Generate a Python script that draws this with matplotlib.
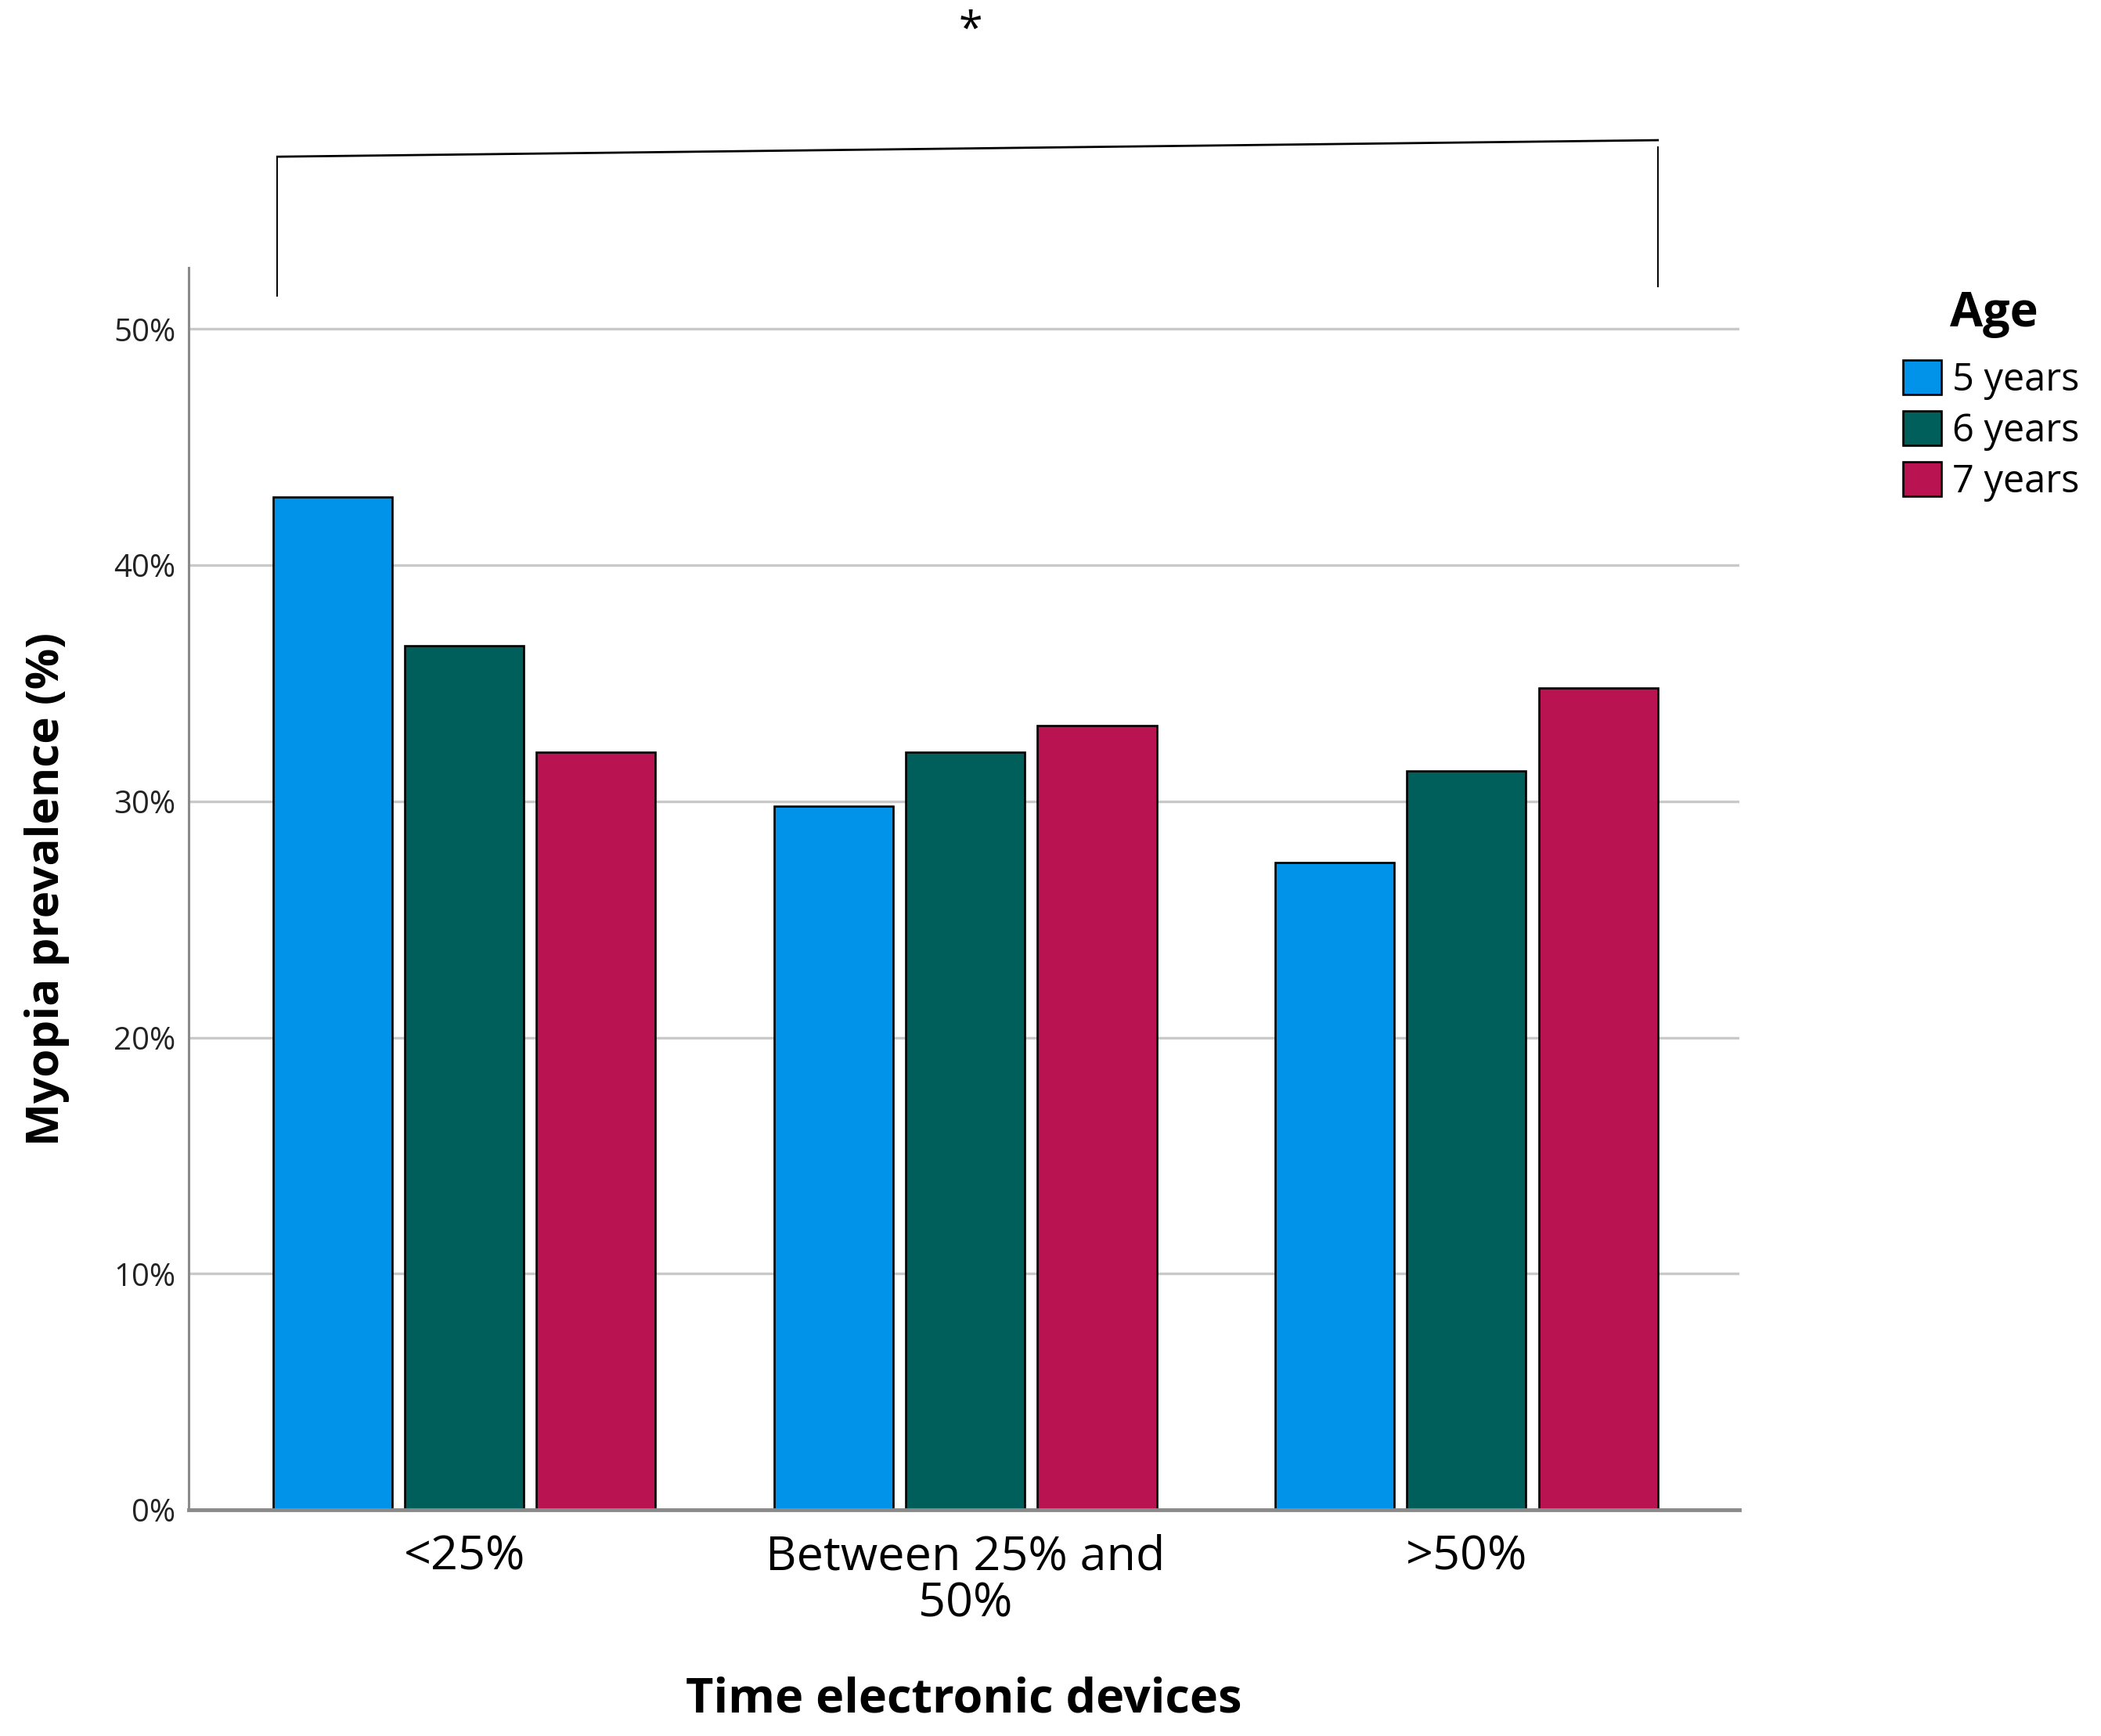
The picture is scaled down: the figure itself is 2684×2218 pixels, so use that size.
import numpy as np
import matplotlib.pyplot as plt
from matplotlib.patches import Patch

# data (myopia prevalence, %)
categories = ['<25%', 'Between 25% and\n50%', '>50%']
ages = ['5 years', '6 years', '7 years']
prev_5y = [42.9, 29.8, 27.4]
prev_6y = [36.6, 32.1, 31.3]
prev_7y = [32.1, 33.2, 34.8]
colors = ['#0093E9', '#005F5B', '#BA1352']

plt.rcParams['font.family'] = ['Open Sans', 'DejaVu Sans']

fig = plt.figure(figsize=(26.84, 22.18), dpi=100)
ax = fig.add_axes([0.0898, 0.1303, 0.7381, 0.7155])

x = np.arange(len(categories))
step = 0.263
width = 0.2375
for i, (vals, col) in enumerate(zip([prev_5y, prev_6y, prev_7y], colors)):
    ax.bar(x + (i - 1) * step, vals, width=width, color=col,
           edgecolor='black', linewidth=1.9, zorder=3)

ax.set_xlim(-0.55, 2.545)
ax.set_ylim(0, 52.6)
ax.set_yticks([0, 10, 20, 30, 40, 50])
ax.set_yticklabels(['0%', '10%', '20%', '30%', '40%', '50%'], fontsize=29, color='#222222')
ax.set_xticks(x)
ax.set_xticklabels(categories, fontsize=44, linespacing=1.0)
ax.tick_params(axis='both', length=0)
ax.tick_params(axis='y', pad=12)
ax.tick_params(axis='x', pad=22)

# gridlines only above zero, zero line is the bottom spine
for yv in [10, 20, 30, 40, 50]:
    ax.axhline(yv, color='#C9C9C9', linewidth=2.4, zorder=1)

for s in ['top', 'right']:
    ax.spines[s].set_visible(False)
ax.spines['left'].set_color('#8A8A8A')
ax.spines['left'].set_linewidth(2.2)
ax.spines['bottom'].set_color('#8A8A8A')
ax.spines['bottom'].set_linewidth(3.5)
ax.spines['bottom'].set_zorder(4)

ax.set_xlabel('Time electronic devices', fontsize=44, fontweight='bold')
ax.xaxis.set_label_coords(0.5, -0.163)
ax.xaxis.label.set_va('baseline')
ax.set_ylabel('Myopia prevalence (%)', fontsize=42, fontweight='bold')
ax.yaxis.set_label_coords(-0.0914, 0.5)
ax.yaxis.label.set_va('center')

# significance bracket over all bars
bl, br = -0.373, 2.382
ax.plot([bl, bl], [51.4, 57.3], color='black', linewidth=1.4, clip_on=False)
ax.plot([br, br], [51.8, 57.7], color='black', linewidth=1.4, clip_on=False)
ax.plot([bl, br], [57.3, 58.0], color='black', linewidth=2.0, clip_on=False)
ax.text(1.011, 62.6, '*', fontsize=40, ha='center', va='center')

# legend, title drawn separately to get the gap of the original
fig.text(0.949, 1 - 402 / 2218, 'Age', fontsize=44, fontweight='bold',
         ha='center', va='center')
handles = [Patch(facecolor=c, edgecolor='black', linewidth=1.9) for c in colors]
leg = fig.legend(handles, ages, loc='upper left',
                 bbox_to_anchor=(0.9057, 0.7925), frameon=False,
                 fontsize=35, handlelength=1.0, handleheight=1.0,
                 handletextpad=0.3, labelspacing=0.3,
                 borderpad=0, borderaxespad=0)

fig.savefig('out.png', dpi=100, facecolor='white')
